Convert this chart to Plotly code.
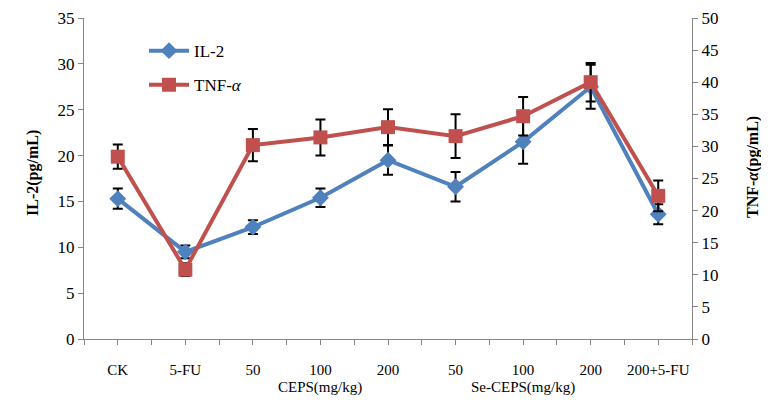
import plotly.graph_objects as go

categories = ["CK", "5-FU", "50", "100", "200", "50", "100", "200", "200+5-FU"]
il2 = [15.3, 9.5, 12.2, 15.4, 19.5, 16.6, 21.5, 27.5, 13.6]
il2_err = [1.1, 0.7, 0.75, 1.0, 1.6, 1.6, 2.4, 2.4, 1.1]
tnf = [28.4, 10.8, 30.2, 31.4, 33.0, 31.6, 34.7, 40.0, 22.3]
tnf_err = [1.9, 1.0, 2.5, 2.8, 2.8, 3.4, 3.0, 3.0, 2.4]
group_labels = ["CEPS(mg/kg)", "Se-CEPS(mg/kg)"]
group_centers = [3, 6]
left_ticks = [0, 5, 10, 15, 20, 25, 30, 35]
right_ticks = [0, 5, 10, 15, 20, 25, 30, 35, 40, 45, 50]

x = list(range(len(categories)))
FONT = "Liberation Serif"
AXIS = "#868686"

fig = go.Figure()
fig.add_trace(go.Scatter(
    x=x, y=il2, name="IL-2", mode="lines+markers",
    line=dict(color="#4F81BD", width=4),
    marker=dict(symbol="diamond", size=13, color="#4F81BD"),
    error_y=dict(type="data", array=il2_err, color="black", thickness=2, width=5),
    legendgroup="a",
))
fig.add_trace(go.Scatter(
    x=x, y=tnf, name="TNF-<i>α</i>", mode="lines+markers", yaxis="y2",
    line=dict(color="#C0504D", width=4),
    marker=dict(symbol="square", size=14, color="#C0504D"),
    error_y=dict(type="data", array=tnf_err, color="black", thickness=2, width=5),
    legendgroup="b",
))

# page body has an 8px margin; figure sized so the plot lands where the reference has it
fig.update_layout(
    width=761, height=393,
    margin=dict(l=76, r=77, t=10, b=62, autoexpand=False),
    plot_bgcolor="white", paper_bgcolor="white",
    font=dict(family=FONT, color="black", size=15),
    showlegend=True,
    legend=dict(x=0.0987, y=0.953, xanchor="left", yanchor="top",
                font=dict(size=17, family=FONT), tracegroupgap=9,
                itemwidth=40, bgcolor="rgba(0,0,0,0)"),
    xaxis=dict(range=[-0.5, 8.5], tickvals=x, ticktext=categories, automargin=False,
               showline=True, linecolor=AXIS, linewidth=1,
               ticks="outside", ticklen=5, tickcolor=AXIS,
               minor=dict(dtick=1, tick0=0.5, ticks="outside", ticklen=5, tickcolor=AXIS),
               showgrid=False, zeroline=False, ticklabelstandoff=12,
               tickfont=dict(size=15, family=FONT)),
    yaxis=dict(range=[0, 35], tickvals=left_ticks, automargin=False,
               showline=True, linecolor=AXIS, linewidth=1,
               ticks="outside", ticklen=5, tickcolor=AXIS,
               showgrid=False, zeroline=False,
               tickfont=dict(size=17, family=FONT)),
    yaxis2=dict(range=[0, 50], tickvals=right_ticks, overlaying="y", side="right",
                automargin=False,
                showline=True, linecolor=AXIS, linewidth=1,
                ticks="outside", ticklen=5, tickcolor=AXIS,
                showgrid=False, zeroline=False,
                tickfont=dict(size=17, family=FONT)),
)

annotations = [
    dict(text="<b>IL-2(pg/mL)</b>", xref="paper", yref="paper",
         x=(33 - 84) / 608, y=(339 - 173) / 321, textangle=-90, showarrow=False,
         font=dict(size=16, family=FONT), xanchor="center", yanchor="middle"),
    dict(text="<b>TNF-<i>α</i>(pg/mL)</b>", xref="paper", yref="paper",
         x=(753 - 84) / 608, y=(339 - 167) / 321, textangle=-90, showarrow=False,
         font=dict(size=16, family=FONT), xanchor="center", yanchor="middle"),
]
for lab, cx in zip(group_labels, group_centers):
    annotations.append(dict(text=lab, xref="x", yref="paper", x=cx,
                            y=(339 - 388) / 321, showarrow=False,
                            font=dict(size=15, family=FONT),
                            xanchor="center", yanchor="middle"))
fig.update_layout(annotations=annotations)

fig.write_html("out.html")
